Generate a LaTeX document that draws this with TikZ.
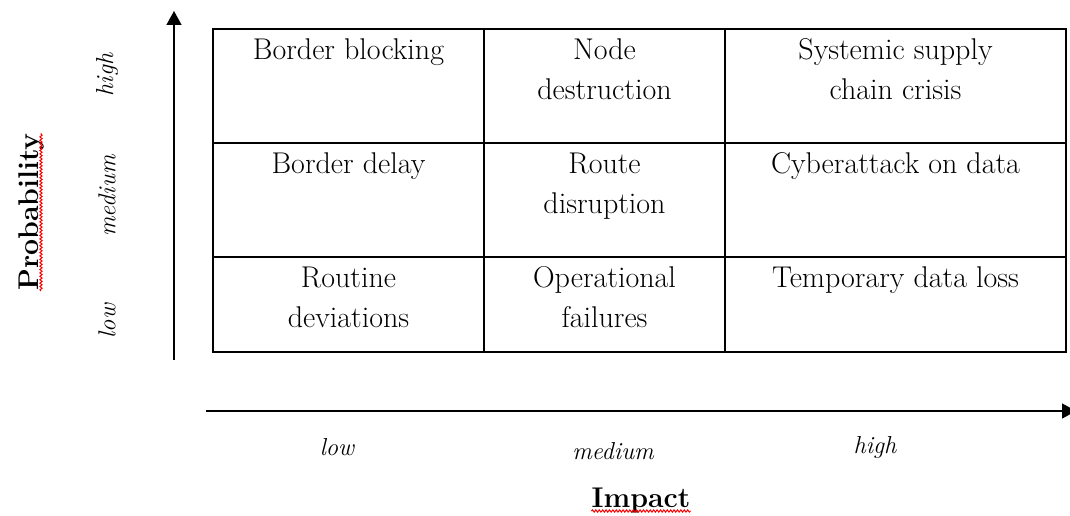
\documentclass[tikz,border=0pt]{standalone}
\usetikzlibrary{arrows.meta,decorations.pathmorphing}
\begin{document}
\begin{tikzpicture}[x=1pt,y=-1pt,
  box/.style={draw,line width=1.4pt,inner sep=0pt,minimum height=#1},
  box/.default=114pt,
  cell/.style={anchor=north,align=center,inner sep=0pt,
    font=\fontsize{30}{40}\selectfont},
  axis/.style={line width=1.6pt,-{Triangle[length=14pt,width=15pt]}},
  tick/.style={inner sep=0pt,font=\fontsize{24.5}{28}\selectfont\itshape},
  title/.style={inner sep=0pt,font=\fontsize{28.5}{34}\selectfont\bfseries},
  spell/.style={red,line width=1pt,decorate,
    decoration={snake,amplitude=1.1pt,segment length=3.4pt}}]
\useasboundingbox (0,0) rectangle (1070,516);

% risk matrix cells: columns 213-484-725-1066, rows 29-143-257-352
\node[box,minimum width=271pt] (c11) at (348.5,86) {};
\node[box,minimum width=241pt] (c12) at (604.5,86) {};
\node[box,minimum width=341pt] (c13) at (895.5,86) {};
\node[box,minimum width=271pt] (c21) at (348.5,200) {};
\node[box,minimum width=241pt] (c22) at (604.5,200) {};
\node[box,minimum width=341pt] (c23) at (895.5,200) {};
\node[box=95pt,minimum width=271pt] (c31) at (348.5,304.5) {};
\node[box=95pt,minimum width=241pt] (c32) at (604.5,304.5) {};
\node[box=95pt,minimum width=341pt] (c33) at (895.5,304.5) {};

% cell texts (first baseline 31pt below the cell top)
\node[cell] (t11) at ([yshift=-3pt]c11.north) {\strut Border blocking};
\node[cell] (t12) at ([yshift=-3pt]c12.north) {\strut Node\\destruction};
\node[cell] (t13) at ([yshift=-3pt]c13.north) {\strut Systemic supply\\chain crisis};
\node[cell] (t21) at ([yshift=-3pt]c21.north) {\strut Border delay};
\node[cell] (t22) at ([yshift=-3pt]c22.north) {\strut Route\\disruption};
\node[cell] (t23) at ([yshift=-3pt]c23.north) {\strut Cyberattack on data};
\node[cell] (t31) at ([yshift=-3pt]c31.north) {\strut Routine\\deviations};
\node[cell] (t32) at ([yshift=-3pt]c32.north) {\strut Operational\\failures};
\node[cell] (t33) at ([yshift=-3pt]c33.north) {\strut Temporary data loss};

% axes
\coordinate (yfrom) at (174,360);
\coordinate (yto) at (174,11);
\coordinate (xfrom) at (206,411);
\coordinate (xto) at (1076,411);
\draw[axis] (yfrom) -- (yto);
\draw[axis] (xfrom) -- (xto);

% probability scale
\node[tick,rotate=90] (plow) at (107,321) {low};
\node[tick,rotate=90] (pmed) at (107,196) {medium};
\node[tick,rotate=90] (phigh) at (107,75) {high};
\node[title,rotate=90,anchor=base] (prob) at (38,212) {Probability};
\draw[spell] ([xshift=3pt]prob.base west) -- ([xshift=3pt]prob.base east);

% impact scale
\node[tick,anchor=base] (ilow) at (337,455) {low};
\node[tick,anchor=base] (imed) at (613,459) {medium};
\node[tick,anchor=base] (ihigh) at (875,453) {high};
\node[title,anchor=base] (imp) at (641,507) {Impact};
\draw[spell] ([yshift=-4pt]imp.base west) -- ([yshift=-4pt]imp.base east);
\end{tikzpicture}
\end{document}
